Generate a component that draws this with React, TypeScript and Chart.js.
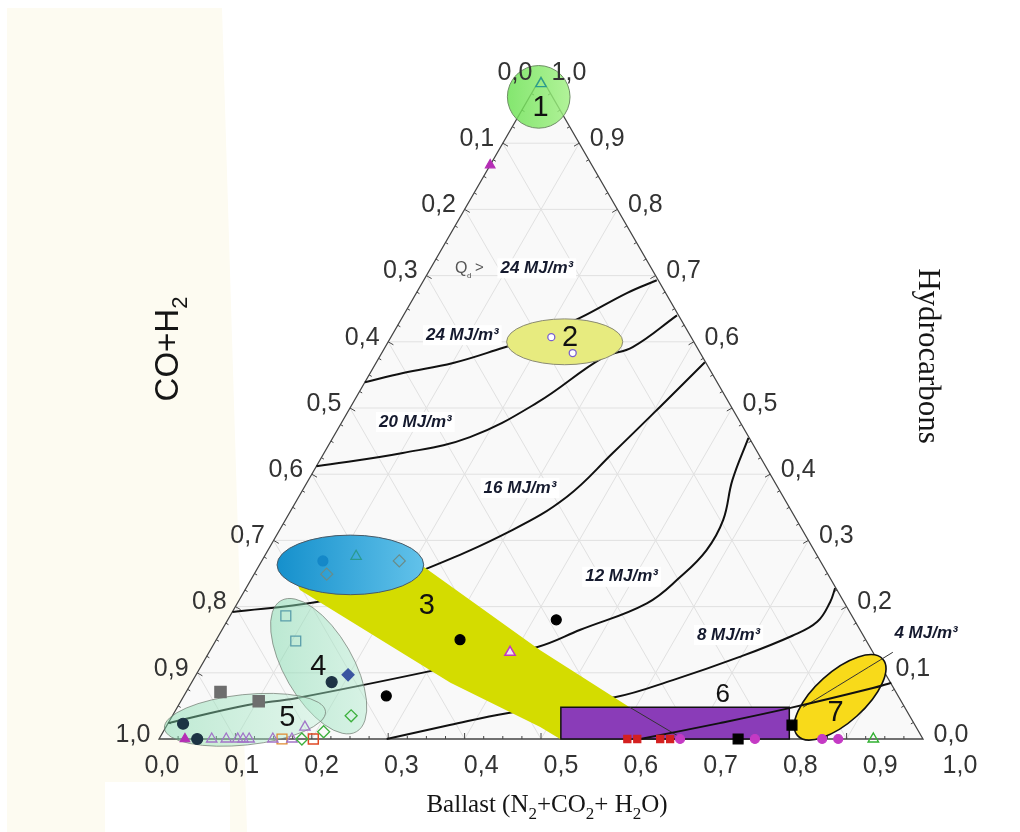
import { useEffect, useRef } from "react";
import { Chart, registerables } from "chart.js";

Chart.register(...registerables);

type TP = [number, number]; // [Ballast, Hydrocarbons]; CO+H2 = 1 - B - H

// ---------- axis ticks ----------
const TICKS = [0, 0.1, 0.2, 0.3, 0.4, 0.5, 0.6, 0.7, 0.8, 0.9, 1.0];
const TICK_LABELS = ["0,0", "0,1", "0,2", "0,3", "0,4", "0,5", "0,6", "0,7", "0,8", "0,9", "1,0"];

// ---------- heating value contours (B, H) ----------
const CONTOUR_24: TP[] = [[0, 0.539], [0.043, 0.553], [0.101, 0.568], [0.155, 0.591], [0.194, 0.609], [0.233, 0.636], [0.276, 0.674], [0.305, 0.693]];
const CONTOUR_20: TP[] = [[0, 0.412], [0.103, 0.432], [0.179, 0.456], [0.241, 0.508], [0.293, 0.576], [0.324, 0.592], [0.358, 0.64]];
const CONTOUR_16: TP[] = [[0, 0.192], [0.103, 0.207], [0.162, 0.228], [0.218, 0.255], [0.305, 0.316], [0.351, 0.366], [0.378, 0.432], [0.405, 0.502], [0.43, 0.569]];
const CONTOUR_12: TP[] = [[0, 0.024], [0.089, 0.051], [0.15, 0.062], [0.327, 0.109], [0.426, 0.139], [0.469, 0.165], [0.536, 0.205], [0.56, 0.245], [0.574, 0.285], [0.573, 0.331], [0.555, 0.391], [0.544, 0.455]];
const CONTOUR_8: TP[] = [[0.298, 0], [0.37, 0.021], [0.436, 0.039], [0.565, 0.063], [0.628, 0.089], [0.698, 0.124], [0.751, 0.156], [0.773, 0.177], [0.775, 0.207], [0.771, 0.228]];
const CONTOUR_4: TP[] = [[0.63, 0], [0.722, 0.024], [0.803, 0.047], [0.896, 0.077], [0.916, 0.085]];
const LEADER_4: TP[] = [[0.819, 0.048], [0.895, 0.131]];

const CONTOUR_LABELS = ["24 MJ/m³", "24 MJ/m³", "20 MJ/m³", "16 MJ/m³", "12 MJ/m³", "8 MJ/m³", "4 MJ/m³"];
const CONTOUR_LABEL_POS: TP[] = [[0.139, 0.711], [0.092, 0.61], [0.096, 0.479], [0.283, 0.379], [0.483, 0.245], [0.667, 0.157], [0.924, 0.16]];
const Q_LABEL_POS: TP = [0.041, 0.711];

// ---------- regions ----------
const ELLIPSE_CENTERS: TP[] = [[0.012, 0.97], [0.231, 0.6], [0.119, 0.263], [0.154, 0.11], [0.098, 0.029], [0.86, 0.063]];
const ELLIPSE_RADII: [number, number][] = [[0.041, 0.041], [0.076, 0.03], [0.096, 0.039], [0.099, 0.045], [0.106, 0.033], [0.075, 0.033]];
const ELLIPSE_ANGLES = [0, 0, 0, 60, -6, -42];
const BAND_3: TP[] = [[0.056, 0.243], [0.215, 0.261], [0.432, 0.134], [0.592, 0.048], [0.686, 0], [0.525, 0], [0.49, 0.018], [0.339, 0.085], [0.072, 0.225]];
const RECT_6: TP[] = [[0.526, 0], [0.825, 0], [0.801, 0.048], [0.502, 0.048]];
const REGION_NAMES = ["1", "2", "3", "4", "5", "6", "7"];
const REGION_LABEL_POS: TP[] = [[0.023, 0.953], [0.235, 0.606], [0.25, 0.201], [0.154, 0.109], [0.152, 0.032], [0.705, 0.066], [0.866, 0.039]];

// ---------- measured points (B, H) ----------
const TEAL_TRI_OPEN: TP[] = [[0.005, 0.99], [0.12, 0.276]];
const MAGENTA_TRI: TP[] = [[0.0, 0.867], [0.034, 0.0]];
const PURPLE_CIRCLE_OPEN: TP[] = [[0.21, 0.607], [0.25, 0.583]];
const BLUE_CIRCLE: TP[] = [[0.08, 0.269]];
const GRAY_DIAMOND_OPEN: TP[] = [[0.095, 0.249], [0.18, 0.269]];
const TEAL_SQUARE_OPEN: TP[] = [[0.073, 0.186], [0.105, 0.148]];
const NAVY_CIRCLE: TP[] = [[0.183, 0.086], [0.02, 0.023], [0.05, 0.0]];
const BLUE_DIAMOND: TP[] = [[0.199, 0.097]];
const GREEN_DIAMOND_OPEN: TP[] = [[0.234, 0.035], [0.187, 0.0], [0.21, 0.011]];
const BLACK_DOT: TP[] = [[0.265, 0.065], [0.319, 0.15], [0.43, 0.18]];
const PINK_TRI_OPEN: TP[] = [[0.394, 0.131]];
const GRAY_SQUARE: TP[] = [[0.045, 0.071], [0.102, 0.057]];
const LILAC_TRI_OPEN: TP[] = [[0.069, 0], [0.088, 0], [0.103, 0], [0.11, 0], [0.118, 0], [0.149, 0], [0.174, 0], [0.182, 0.018]];
const ORANGE_SQUARE_OPEN: TP[] = [[0.161, 0]];
const RED_SQUARE_OPEN: TP[] = [[0.202, 0]];
const RED_SQUARE: TP[] = [[0.613, 0], [0.626, 0], [0.656, 0], [0.669, 0]];
const BLACK_SQUARE: TP[] = [[0.758, 0], [0.818, 0.021]];
const MAGENTA_CIRCLE: TP[] = [[0.682, 0], [0.78, 0], [0.868, 0], [0.889, 0]];
const GREEN_TRI_OPEN: TP[] = [[0.935, 0]];

// ---------- page mapping (triangle: BL (159,739), BR (923,739), top (541,77)) ----------
const X_MIN = -159 / 764;
const X_MAX = X_MIN + 1020 / 764;
const Y_MAX = 739 / 662;
const Y_MIN = Y_MAX - 832 / 662;

const SANS = "'Liberation Sans', Arial, sans-serif";
const SERIF = "'Liberation Serif', 'Times New Roman', serif";

const toXY = (p: TP) => ({ x: p[0] + p[1] / 2, y: p[1] });

function P(chart: any, b: number, h: number) {
  return { x: chart.scales.x.getPixelForValue(b + h / 2), y: chart.scales.y.getPixelForValue(h) };
}
function unitPx(chart: any) {
  return chart.scales.x.getPixelForValue(1) - chart.scales.x.getPixelForValue(0);
}

function lineDS(data: TP[], width: number, color: string, order: number) {
  return {
    label: "line",
    data: data.map(toXY),
    showLine: true,
    borderColor: color,
    borderWidth: width,
    pointRadius: 0,
    tension: 0.4,
    fill: false,
    order,
  };
}
function markerDS(data: TP[], style: string, r: number, fill: string, stroke: string, bw = 1.2) {
  return {
    label: "marker",
    data: data.map(toXY),
    showLine: false,
    pointStyle: style,
    pointRadius: r,
    pointBackgroundColor: fill,
    pointBorderColor: stroke,
    pointBorderWidth: bw,
    order: 10,
  };
}

function polyPath(ctx: CanvasRenderingContext2D, chart: any, pts: TP[]) {
  ctx.beginPath();
  pts.forEach((p, i) => {
    const q = P(chart, p[0], p[1]);
    if (i === 0) ctx.moveTo(q.x, q.y);
    else ctx.lineTo(q.x, q.y);
  });
  ctx.closePath();
}

function drawEllipse(chart: any, i: number, fill: (c: any, rx: number) => any, stroke: string | null, lw: number) {
  const ctx: CanvasRenderingContext2D = chart.ctx;
  const S = unitPx(chart);
  const c = P(chart, ELLIPSE_CENTERS[i][0], ELLIPSE_CENTERS[i][1]);
  const rx = ELLIPSE_RADII[i][0] * S;
  const ry = ELLIPSE_RADII[i][1] * S;
  ctx.beginPath();
  ctx.ellipse(c.x, c.y, rx, ry, (ELLIPSE_ANGLES[i] * Math.PI) / 180, 0, Math.PI * 2);
  ctx.fillStyle = fill(c, Math.max(rx, ry));
  ctx.fill();
  if (stroke) {
    ctx.strokeStyle = stroke;
    ctx.lineWidth = lw;
    ctx.stroke();
  }
}

function grad(ctx: CanvasRenderingContext2D, c: any, r: number, a: string, b: string) {
  const g = ctx.createLinearGradient(c.x - r, c.y, c.x + r, c.y);
  g.addColorStop(0, a);
  g.addColorStop(1, b);
  return g;
}

function drawShapes(chart: any) {
  const ctx: CanvasRenderingContext2D = chart.ctx;
  ctx.save();
  polyPath(ctx, chart, BAND_3);
  ctx.fillStyle = "#d4dc00";
  ctx.fill();
  drawEllipse(chart, 2, (c, r) => grad(ctx, c, r, "#1590cc", "#62c2ea"), "#4a5a66", 1);
  drawEllipse(chart, 0, (c, r) => grad(ctx, c, r, "rgba(105,225,80,0.82)", "rgba(160,240,130,0.82)"), "#6f8f66", 1);
  drawEllipse(chart, 1, () => "#e7eb7f", "#8a8a74", 1);
  drawEllipse(chart, 3, (c, r) => grad(ctx, c, r, "rgba(110,210,160,0.5)", "rgba(190,240,215,0.45)"), "rgba(110,120,110,0.7)", 1);
  drawEllipse(chart, 4, (c, r) => grad(ctx, c, r, "rgba(120,215,165,0.45)", "rgba(190,240,215,0.4)"), "rgba(110,120,110,0.7)", 1);
  polyPath(ctx, chart, RECT_6);
  ctx.fillStyle = "#8a3cb8";
  ctx.fill();
  ctx.strokeStyle = "#111";
  ctx.lineWidth = 1.5;
  ctx.stroke();
  const a = P(chart, BAND_3[3][0], BAND_3[3][1]);
  const b = P(chart, BAND_3[4][0], BAND_3[4][1]);
  ctx.beginPath();
  ctx.moveTo(a.x, a.y);
  ctx.lineTo(b.x, b.y);
  ctx.strokeStyle = "#333";
  ctx.lineWidth = 1;
  ctx.stroke();
  drawEllipse(chart, 5, () => "#f8da1a", "#111", 1.6);
  ctx.restore();
}

function drawRich(ctx: CanvasRenderingContext2D, parts: { t: string; sub?: boolean }[], x: number, y: number, size: number, family: string) {
  const subSize = Math.round(size * 0.68);
  let w = 0;
  parts.forEach((p) => {
    ctx.font = `${p.sub ? subSize : size}px ${family}`;
    w += ctx.measureText(p.t).width;
  });
  let cx = x - w / 2;
  ctx.textAlign = "left";
  ctx.textBaseline = "alphabetic";
  parts.forEach((p) => {
    ctx.font = `${p.sub ? subSize : size}px ${family}`;
    ctx.fillText(p.t, cx, y + (p.sub ? size * 0.28 : 0));
    cx += ctx.measureText(p.t).width;
  });
}

const ternaryPlugin = {
  id: "ternary",
  beforeDraw(chart: any) {
    const ctx: CanvasRenderingContext2D = chart.ctx;
    ctx.save();
    ctx.fillStyle = "#ffffff";
    ctx.fillRect(0, 0, chart.width, chart.height);
    ctx.fillStyle = "#fdfbf1";
    ctx.beginPath();
    ctx.moveTo(7, 8);
    ctx.lineTo(222, 8);
    ctx.lineTo(247, 832);
    ctx.lineTo(7, 832);
    ctx.closePath();
    ctx.fill();
    ctx.fillStyle = "#ffffff";
    ctx.fillRect(105, 782, 125, 50);
    ctx.restore();
  },
  beforeDatasetsDraw(chart: any) {
    const ctx: CanvasRenderingContext2D = chart.ctx;
    ctx.save();
    polyPath(ctx, chart, [[0, 0], [1, 0], [0, 1]]);
    ctx.fillStyle = "#f9f9f9";
    ctx.fill();
    ctx.strokeStyle = "#e1e1e1";
    ctx.lineWidth = 1;
    for (let i = 1; i < 10; i++) {
      const k = TICKS[i];
      const segs: [TP, TP][] = [
        [[0, k], [1 - k, k]],
        [[k, 0], [k, 1 - k]],
        [[1 - k, 0], [0, 1 - k]],
      ];
      segs.forEach(([s, e]) => {
        const p1 = P(chart, s[0], s[1]);
        const p2 = P(chart, e[0], e[1]);
        ctx.beginPath();
        ctx.moveTo(p1.x, p1.y);
        ctx.lineTo(p2.x, p2.y);
        ctx.stroke();
      });
    }
    polyPath(ctx, chart, [[0, 0], [1, 0], [0, 1]]);
    ctx.strokeStyle = "#444";
    ctx.lineWidth = 1.3;
    ctx.stroke();
    ctx.lineWidth = 1;
    ctx.strokeStyle = "#444";
    for (let j = 1; j < 40; j++) {
      const t = j * 0.025;
      const len = j % 4 === 0 ? 6 : 3;
      const pb = P(chart, t, 0);
      const pl = P(chart, 0, t);
      const pr = P(chart, 1 - t, t);
      ctx.beginPath();
      ctx.moveTo(pb.x, pb.y);
      ctx.lineTo(pb.x, pb.y - len);
      ctx.moveTo(pl.x, pl.y);
      ctx.lineTo(pl.x + 0.866 * len, pl.y + 0.5 * len);
      ctx.moveTo(pr.x, pr.y);
      ctx.lineTo(pr.x - 0.866 * len, pr.y + 0.5 * len);
      ctx.stroke();
    }
    ctx.restore();
  },
  afterDatasetDraw(chart: any, args: any) {
    if (chart.data.datasets[args.index]?.label === "shapes") drawShapes(chart);
  },
  afterDatasetsDraw(chart: any) {
    const ctx: CanvasRenderingContext2D = chart.ctx;
    ctx.save();
    ctx.fillStyle = "#333";
    ctx.font = `25px ${SANS}`;
    ctx.textAlign = "center";
    ctx.textBaseline = "middle";
    TICKS.forEach((v, i) => {
      const pb = P(chart, v, 0);
      ctx.fillText(TICK_LABELS[i], pb.x + 3 + 34 * v, 766);
      const pl = P(chart, 0, 1 - v);
      ctx.fillText(TICK_LABELS[i], pl.x - 26, pl.y - 4);
      const pr = P(chart, 1 - v, v);
      ctx.fillText(TICK_LABELS[i], pr.x + 28, pr.y - 4);
    });
    CONTOUR_LABELS.forEach((s, i) => {
      const p = P(chart, CONTOUR_LABEL_POS[i][0], CONTOUR_LABEL_POS[i][1]);
      ctx.font = `italic bold 17px ${SANS}`;
      const w = ctx.measureText(s).width;
      ctx.fillStyle = "#ffffff";
      ctx.fillRect(p.x - w / 2 - 3, p.y - 10, w + 6, 20);
      ctx.fillStyle = "#151a2e";
      ctx.textAlign = "center";
      ctx.textBaseline = "middle";
      ctx.fillText(s, p.x, p.y);
    });
    const q = P(chart, Q_LABEL_POS[0], Q_LABEL_POS[1]);
    ctx.fillStyle = "#555";
    ctx.textAlign = "left";
    ctx.textBaseline = "middle";
    ctx.font = `16px ${SANS}`;
    ctx.fillText("Q", q.x - 7, q.y);
    ctx.font = `8px ${SANS}`;
    ctx.fillText("d", q.x + 5, q.y + 7);
    ctx.font = `15px ${SANS}`;
    ctx.fillText(">", q.x + 13, q.y);
    ctx.fillStyle = "#111";
    ctx.textAlign = "center";
    ctx.textBaseline = "middle";
    REGION_NAMES.forEach((s, i) => {
      const p = P(chart, REGION_LABEL_POS[i][0], REGION_LABEL_POS[i][1]);
      ctx.font = `${i === 5 ? 26 : 29}px ${SANS}`;
      ctx.fillText(s, p.x, p.y);
    });
    ctx.fillStyle = "#151515";
    ctx.save();
    ctx.translate(178, 349);
    ctx.rotate(-Math.PI / 2);
    drawRich(ctx, [{ t: "CO+H" }, { t: "2", sub: true }], 0, 0, 33, SANS);
    ctx.restore();
    ctx.save();
    ctx.translate(919, 356);
    ctx.rotate(Math.PI / 2);
    ctx.font = `31px ${SERIF}`;
    ctx.textAlign = "center";
    ctx.textBaseline = "alphabetic";
    ctx.fillText("Hydrocarbons", 0, 0);
    ctx.restore();
    drawRich(
      ctx,
      [
        { t: "Ballast (N" }, { t: "2", sub: true }, { t: "+CO" }, { t: "2", sub: true },
        { t: "+ H" }, { t: "2", sub: true }, { t: "O)" },
      ],
      547, 812, 25, SERIF
    );
    ctx.restore();
  },
};

export default function App() {
  const ref = useRef<HTMLCanvasElement>(null);
  useEffect(() => {
    const canvas = ref.current;
    if (!canvas) return;
    const NONE = "rgba(0,0,0,0)";
    const chart = new Chart(canvas, {
      type: "scatter",
      data: {
        datasets: [
          markerDS(TEAL_TRI_OPEN, "triangle", 6, NONE, "#2a9a90", 1.3),
          markerDS(MAGENTA_TRI, "triangle", 5.5, "#b52db5", "#b52db5"),
          markerDS(PURPLE_CIRCLE_OPEN, "circle", 3.5, "#ffffff", "#7a5fd0", 1.3),
          markerDS(BLUE_CIRCLE, "circle", 5, "#1588c8", "#1588c8"),
          markerDS(GRAY_DIAMOND_OPEN, "rectRot", 6, NONE, "#6a8c88", 1.2),
          markerDS(TEAL_SQUARE_OPEN, "rect", 7, NONE, "#5a9eaa", 1.3),
          markerDS(NAVY_CIRCLE, "circle", 5.5, "#1d3344", "#1d3344"),
          markerDS(BLUE_DIAMOND, "rectRot", 6, "#3a55a0", "#3a55a0"),
          markerDS(GREEN_DIAMOND_OPEN, "rectRot", 6, NONE, "#3cb03c", 1.3),
          markerDS(BLACK_DOT, "circle", 5, "#000000", "#000000"),
          markerDS(PINK_TRI_OPEN, "triangle", 6, "#f4e6f4", "#c03ac0", 1.5),
          markerDS(GRAY_SQUARE, "rect", 8, "#6e6e6e", "#6e6e6e"),
          markerDS(LILAC_TRI_OPEN, "triangle", 6, NONE, "#a274c8", 1.3),
          markerDS(ORANGE_SQUARE_OPEN, "rect", 7, NONE, "#e08a30", 1.3),
          markerDS(RED_SQUARE_OPEN, "rect", 7, NONE, "#e04a25", 1.5),
          markerDS(RED_SQUARE, "rect", 5, "#d42020", "#d42020"),
          markerDS(BLACK_SQUARE, "rect", 7, "#000000", "#000000"),
          markerDS(MAGENTA_CIRCLE, "circle", 4.5, "#c43ac4", "#c43ac4"),
          markerDS(GREEN_TRI_OPEN, "triangle", 6, NONE, "#30b030", 1.4),
          lineDS(CONTOUR_4, 2, "#111111", 50),
          lineDS(LEADER_4, 1, "#333333", 50),
          { label: "shapes", data: [], order: 75, pointRadius: 0, showLine: false },
          lineDS(CONTOUR_24, 2, "#111111", 100),
          lineDS(CONTOUR_20, 2, "#111111", 100),
          lineDS(CONTOUR_16, 2, "#111111", 100),
          lineDS(CONTOUR_12, 2, "#111111", 100),
          lineDS(CONTOUR_8, 2, "#111111", 100),
        ] as any,
      },
      options: {
        animation: false,
        responsive: false,
        devicePixelRatio: 1,
        layout: { padding: 0, autoPadding: false },
        events: [],
        scales: {
          x: { type: "linear", min: X_MIN, max: X_MAX, display: false },
          y: { type: "linear", min: Y_MIN, max: Y_MAX, display: false },
        },
        plugins: { legend: { display: false }, tooltip: { enabled: false } },
      },
      plugins: [ternaryPlugin],
    } as any);
    return () => chart.destroy();
  }, []);
  return (
    <div style={{ position: "absolute", left: 0, top: 0, width: 1020, height: 832 }}>
      <canvas ref={ref} width={1020} height={832} style={{ display: "block", width: 1020, height: 832 }} />
    </div>
  );
}
